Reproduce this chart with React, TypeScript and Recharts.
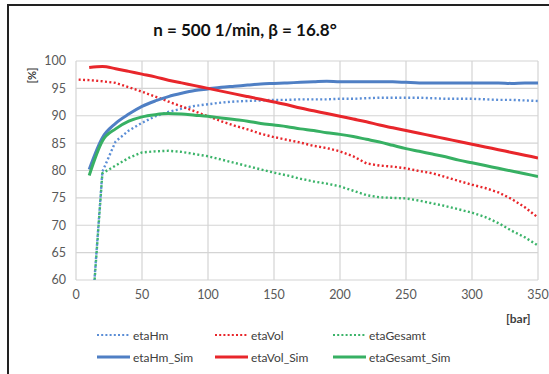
import React from 'react';
import { LineChart, Line, XAxis, YAxis, CartesianGrid } from 'recharts';

const pressureSim = [10, 20, 30, 40, 50, 60, 70, 80, 90, 100, 110, 120, 130, 140, 150, 160, 170, 180, 190, 200, 210, 220, 230, 240, 250, 260, 270, 280, 290, 300, 310, 320, 330, 340, 350];
const etaHmSim = [80.2, 86.0, 88.6, 90.3, 91.7, 92.7, 93.5, 94.1, 94.6, 94.9, 95.2, 95.4, 95.6, 95.8, 95.9, 96.0, 96.1, 96.2, 96.3, 96.2, 96.2, 96.2, 96.2, 96.2, 96.1, 96.0, 96.0, 96.0, 96.0, 96.0, 96.0, 96.0, 95.9, 96.0, 96.0];
const etaVolSim = [98.8, 99.0, 98.6, 98.1, 97.6, 97.1, 96.5, 96.0, 95.5, 95.0, 94.5, 94.0, 93.5, 93.0, 92.5, 92.0, 91.4, 90.9, 90.4, 89.9, 89.4, 88.9, 88.3, 87.8, 87.3, 86.8, 86.3, 85.8, 85.3, 84.8, 84.3, 83.8, 83.3, 82.8, 82.3];
const etaGesamtSim = [79.1, 85.4, 87.6, 89.0, 89.8, 90.2, 90.4, 90.3, 90.1, 89.9, 89.6, 89.3, 89.0, 88.6, 88.3, 88.0, 87.6, 87.3, 86.9, 86.6, 86.2, 85.7, 85.2, 84.6, 84.0, 83.5, 83.0, 82.5, 81.9, 81.4, 80.9, 80.4, 79.9, 79.4, 78.9];

const pressureVol = [2, 10, 20, 30, 40, 50, 60, 70, 80, 90, 100, 110, 120, 130, 140, 150, 160, 170, 180, 190, 200, 210, 220, 230, 240, 250, 260, 270, 280, 290, 300, 310, 320, 330, 340, 350];
const etaVol = [96.6, 96.5, 96.3, 96.0, 95.2, 94.4, 93.5, 92.6, 91.7, 90.8, 89.9, 89.0, 88.2, 87.5, 86.7, 86.1, 85.6, 85.1, 84.5, 84.1, 83.5, 82.6, 81.3, 80.9, 80.7, 80.4, 79.9, 79.5, 78.8, 78.1, 77.4, 76.8, 76.0, 74.8, 73.3, 71.4];

const pressureMeas = [10, 20, 30, 40, 50, 60, 70, 80, 90, 100, 110, 120, 130, 140, 150, 160, 170, 180, 190, 200, 210, 220, 230, 240, 250, 260, 270, 280, 290, 300, 310, 320, 330, 340, 350];
const etaHm = [47.0, 79.8, 85.3, 87.3, 88.7, 89.9, 90.7, 91.3, 91.8, 92.1, 92.4, 92.6, 92.7, 92.8, 92.9, 92.9, 93.0, 93.0, 93.0, 93.1, 93.1, 93.2, 93.3, 93.3, 93.3, 93.3, 93.2, 93.1, 93.1, 93.1, 93.0, 92.9, 92.9, 92.8, 92.7];
const etaGesamt = [46.5, 79.5, 80.9, 82.3, 83.3, 83.5, 83.6, 83.4, 83.0, 82.6, 82.0, 81.4, 80.8, 80.2, 79.6, 79.1, 78.5, 78.0, 77.6, 77.1, 76.3, 75.5, 75.1, 75.0, 74.9, 74.5, 74.0, 73.5, 72.9, 72.3, 71.5, 70.4, 69.0, 67.8, 66.3];

const xTicks = [0, 50, 100, 150, 200, 250, 300, 350];
const yTicks = [60, 65, 70, 75, 80, 85, 90, 95, 100];

const BLUE = '#4f7fc4';
const BLUE_DOT = '#5b8ed6';
const RED = '#e8262b';
const GREEN = '#37b063';
const GREEN_DOT = '#3cb46a';

const toPoints = (xs: number[], ys: number[]) => xs.map((x, i) => ({ x, y: ys[i] }));

const legendItems = [
  { name: 'etaHm', color: BLUE_DOT, dotted: true, col: 0, row: 0 },
  { name: 'etaVol', color: RED, dotted: true, col: 1, row: 0 },
  { name: 'etaGesamt', color: GREEN_DOT, dotted: true, col: 2, row: 0 },
  { name: 'etaHm_Sim', color: BLUE, dotted: false, col: 0, row: 1 },
  { name: 'etaVol_Sim', color: RED, dotted: false, col: 1, row: 1 },
  { name: 'etaGesamt_Sim', color: GREEN, dotted: false, col: 2, row: 1 },
];
const legendColX = [97, 215, 333];
const legendRowY = [335, 357];

const font = 'Lato, "Open Sans", sans-serif';

export default function App() {
  return (
    <div style={{ position: 'absolute', left: 0, top: 0, width: 549, height: 374, background: '#fff', fontFamily: font, overflow: 'hidden' }}>
      <div style={{ position: 'absolute', left: 7, top: 4, right: -10, bottom: -10, borderTop: '2px solid #222', borderLeft: '2px solid #222' }} />
      <div style={{ position: 'absolute', left: 0, width: 490, top: 19, textAlign: 'center', fontSize: 17, fontWeight: 700, color: '#111', lineHeight: '22px' }}>
        n = 500 1/min, β = 16.8°
      </div>
      <div style={{ position: 'absolute', left: 0, top: 0 }}>
        <LineChart width={549} height={374} margin={{ top: 61, right: 11, bottom: 74, left: 36 }}>
          <CartesianGrid stroke="#d4d4d4" strokeWidth={1.2} horizontalValues={yTicks} verticalValues={xTicks} />
          <XAxis dataKey="x" type="number" domain={[0, 350]} ticks={xTicks} axisLine={false} tickLine={false} tickSize={0} tickMargin={10} height={20} allowDataOverflow tick={{ fill: '#595959', fontSize: 12.5, fontFamily: font }} />
          <YAxis type="number" domain={[60, 100]} ticks={yTicks} axisLine={false} tickLine={false} tickSize={0} tickMargin={10} width={40} allowDataOverflow tick={{ fill: '#595959', fontSize: 12.5, fontFamily: font }} />
          <Line data={toPoints(pressureMeas, etaHm)} dataKey="y" type="linear" stroke={BLUE_DOT} strokeWidth={2.4} strokeDasharray="2 2.4" dot={false} isAnimationActive={false} />
          <Line data={toPoints(pressureVol, etaVol)} dataKey="y" type="linear" stroke={RED} strokeWidth={2.4} strokeDasharray="2 2.4" dot={false} isAnimationActive={false} />
          <Line data={toPoints(pressureMeas, etaGesamt)} dataKey="y" type="linear" stroke={GREEN_DOT} strokeWidth={2.4} strokeDasharray="2 2.4" dot={false} isAnimationActive={false} />
          <Line data={toPoints(pressureSim, etaHmSim)} dataKey="y" type="monotone" stroke={BLUE} strokeWidth={3} dot={false} isAnimationActive={false} />
          <Line data={toPoints(pressureSim, etaVolSim)} dataKey="y" type="monotone" stroke={RED} strokeWidth={3} dot={false} isAnimationActive={false} />
          <Line data={toPoints(pressureSim, etaGesamtSim)} dataKey="y" type="monotone" stroke={GREEN} strokeWidth={3} dot={false} isAnimationActive={false} />
        </LineChart>
      </div>
      <div style={{ position: 'absolute', left: 22, top: 62, width: 20, height: 26, display: 'flex', alignItems: 'center', justifyContent: 'center' }}>
        <div style={{ transform: 'rotate(-90deg)', fontSize: 11, fontWeight: 700, color: '#404040', whiteSpace: 'nowrap' }}>[%]</div>
      </div>
      <div style={{ position: 'absolute', left: 506, top: 311, fontSize: 12, fontWeight: 700, color: '#404040' }}>[bar]</div>
      {legendItems.map((it) => (
        <div key={it.name} style={{ position: 'absolute', left: legendColX[it.col], top: legendRowY[it.row] - 8, height: 16, display: 'flex', alignItems: 'center' }}>
          <svg width={33} height={6} style={{ display: 'block' }}>
            <line x1={0} y1={3} x2={33} y2={3} stroke={it.color} strokeWidth={it.dotted ? 2.2 : 3} strokeDasharray={it.dotted ? '2 2.2' : undefined} />
          </svg>
          <span style={{ marginLeft: 3, fontSize: 12, color: '#404040', whiteSpace: 'nowrap' }}>{it.name}</span>
        </div>
      ))}
    </div>
  );
}
